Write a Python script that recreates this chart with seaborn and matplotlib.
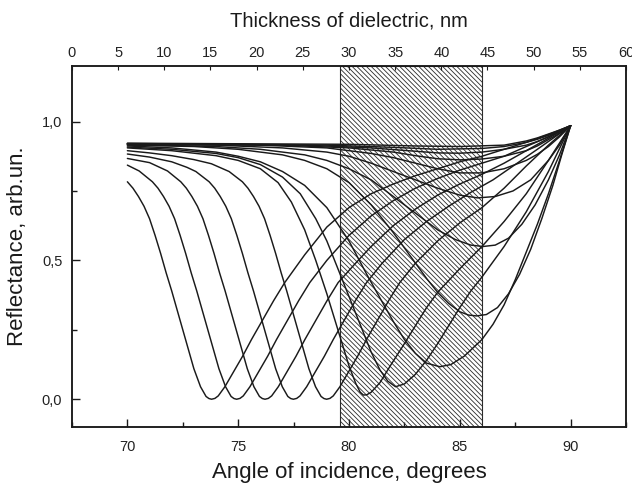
import matplotlib
matplotlib.use("Agg")
import matplotlib.pyplot as plt
from matplotlib.ticker import MultipleLocator, FuncFormatter
import seaborn as sns
import pandas as pd

# ---- data (angle in degrees, reflectance arb.un.) ----
ang_01 = [70.0, 70.25, 70.5, 70.75, 71.0, 71.25, 71.5, 71.75, 72.0, 72.25, 72.5, 72.75, 73.0, 73.3, 73.55, 73.68,
          73.8, 73.95, 74.1, 74.4, 74.8, 75.2, 75.6, 76.1, 76.6, 77.1,
          78.0, 79.0, 80.0, 81.0, 82.0, 83.0, 84.0, 85.0, 86.0, 87.0, 88.0, 89.0, 90.0]
ref_01 = [0.783, 0.76, 0.73, 0.695, 0.65, 0.59, 0.525, 0.455, 0.39, 0.32, 0.25, 0.18, 0.11, 0.045, 0.01, 0.0025,
          0.0, 0.003, 0.012, 0.045, 0.10, 0.155, 0.215, 0.285, 0.355, 0.42,
          0.52, 0.62, 0.69, 0.74, 0.775, 0.805, 0.83, 0.855, 0.875, 0.90, 0.925, 0.953, 0.985]

ang_02 = [70.0, 70.53, 71.13, 71.38, 71.63, 71.88, 72.13, 72.38, 72.63, 72.88, 73.13, 73.38, 73.63, 73.88, 74.13, 74.43, 74.68, 74.81,
          74.93, 75.08, 75.23, 75.53, 75.93, 76.33, 76.73, 77.23, 77.73, 78.23,
          79.0, 80.0, 81.0, 82.0, 83.0, 84.0, 85.0, 86.0, 87.0, 88.0, 89.0, 90.0]
ref_02 = [0.843, 0.822, 0.783, 0.76, 0.73, 0.695, 0.65, 0.59, 0.525, 0.455, 0.39, 0.32, 0.25, 0.18, 0.11, 0.045, 0.01, 0.0025,
          0.0, 0.003, 0.012, 0.045, 0.10, 0.155, 0.215, 0.285, 0.355, 0.42,
          0.50, 0.59, 0.66, 0.715, 0.76, 0.795, 0.825, 0.85, 0.875, 0.91, 0.945, 0.985]

ang_03 = [70.0, 71.0, 71.81, 72.41, 72.66, 72.91, 73.16, 73.41, 73.66, 73.91, 74.16, 74.41, 74.66, 74.91, 75.16, 75.41, 75.71, 75.96, 76.09,
          76.21, 76.36, 76.51, 76.81, 77.21, 77.61, 78.01, 78.51, 79.01, 79.51,
          80.3, 81.0, 82.0, 83.0, 84.0, 85.0, 86.0, 87.0, 88.0, 89.0, 90.0]
ref_03 = [0.867, 0.852, 0.822, 0.783, 0.76, 0.73, 0.695, 0.65, 0.59, 0.525, 0.455, 0.39, 0.32, 0.25, 0.18, 0.11, 0.045, 0.01, 0.0025,
          0.0, 0.003, 0.012, 0.045, 0.10, 0.155, 0.215, 0.285, 0.355, 0.42,
          0.49, 0.55, 0.625, 0.685, 0.735, 0.775, 0.81, 0.85, 0.895, 0.94, 0.985]

ang_04 = [70.0, 71.0, 72.0, 72.69, 73.09, 73.69, 73.94, 74.19, 74.44, 74.69, 74.94, 75.19, 75.44, 75.69, 75.94, 76.19, 76.44, 76.69, 76.99, 77.24, 77.37,
          77.49, 77.64, 77.79, 78.09, 78.49, 78.89, 79.29, 79.79, 80.29, 80.79,
          81.5, 82.5, 83.5, 84.5, 85.5, 86.5, 87.5, 88.5, 89.3, 90.0]
ref_04 = [0.883, 0.872, 0.855, 0.835, 0.82, 0.783, 0.76, 0.73, 0.695, 0.65, 0.59, 0.525, 0.455, 0.39, 0.32, 0.25, 0.18, 0.11, 0.045, 0.01, 0.0025,
          0.0, 0.003, 0.012, 0.045, 0.10, 0.155, 0.215, 0.285, 0.355, 0.42,
          0.49, 0.575, 0.64, 0.695, 0.745, 0.79, 0.845, 0.90, 0.945, 0.985]

ang_05 = [70.0, 71.0, 72.0, 73.0, 73.79, 74.59, 75.19, 75.44, 75.69, 75.94, 76.19, 76.44, 76.69, 76.94, 77.19, 77.44, 77.69, 77.94, 78.19, 78.49, 78.74, 78.87,
          78.99, 79.14, 79.29, 79.59, 79.99, 80.39, 80.79, 81.29, 81.79, 82.29,
          83.0, 84.0, 85.0, 86.0, 87.0, 88.0, 89.0, 90.0]
ref_05 = [0.895, 0.887, 0.877, 0.863, 0.848, 0.82, 0.783, 0.76, 0.73, 0.695, 0.65, 0.59, 0.525, 0.455, 0.39, 0.32, 0.25, 0.18, 0.11, 0.045, 0.01, 0.0025,
          0.0, 0.003, 0.012, 0.045, 0.10, 0.155, 0.215, 0.285, 0.355, 0.42,
          0.49, 0.57, 0.635, 0.69, 0.76, 0.84, 0.915, 0.985]

ang_06 = [70.0, 72.0, 74.0, 75.0, 76.0, 76.8, 77.4, 78.0, 78.5, 79.0, 79.5, 80.0, 80.3, 80.5, 80.65, 80.8, 81.0, 81.4, 81.9, 82.5, 83.0, 83.5, 84.0, 85.0, 86.0, 87.0, 88.0, 89.0, 90.0]
ref_06 = [0.905, 0.895, 0.877, 0.86, 0.83, 0.78, 0.71, 0.61, 0.50, 0.38, 0.25, 0.12, 0.058, 0.026, 0.015, 0.016, 0.025, 0.06, 0.125, 0.20, 0.265, 0.33, 0.385, 0.47, 0.55, 0.64, 0.74, 0.86, 0.985]

ang_07 = [70.0, 72.0, 74.0, 75.0, 76.0, 77.0, 77.8, 78.5, 79.0, 79.5, 80.0, 80.5, 81.0, 81.4, 81.75, 82.1, 82.5, 83.0, 83.5, 84.0, 84.5, 85.0, 85.5, 86.0, 87.0, 88.0, 89.0, 90.0]
ref_07 = [0.908, 0.90, 0.885, 0.87, 0.845, 0.80, 0.74, 0.65, 0.57, 0.47, 0.37, 0.27, 0.17, 0.105, 0.065, 0.045, 0.055, 0.09, 0.14, 0.20, 0.265, 0.33, 0.39, 0.44, 0.55, 0.675, 0.82, 0.985]

ang_08 = [70.0, 72.0, 74.0, 75.0, 76.0, 77.0, 78.0, 79.0, 80.0, 80.8, 81.5, 82.0, 82.5, 83.0, 83.5, 84.1, 84.6, 85.2, 86.0, 86.5, 87.0, 87.5, 88.0, 88.5, 89.0, 89.5, 90.0]
ref_08 = [0.912, 0.905, 0.89, 0.875, 0.855, 0.82, 0.77, 0.69, 0.57, 0.45, 0.35, 0.28, 0.215, 0.165, 0.13, 0.117, 0.125, 0.155, 0.215, 0.27, 0.34, 0.43, 0.53, 0.63, 0.74, 0.86, 0.985]

ang_09 = [70.0, 73.0, 75.0, 77.0, 78.0, 79.0, 80.0, 81.0, 82.0, 82.5, 83.0, 83.5, 84.0, 84.5, 85.0, 85.4, 85.76, 86.2, 86.7, 87.2, 87.7, 88.2, 88.7, 89.2, 89.6, 90.0]
ref_09 = [0.915, 0.91, 0.90, 0.88, 0.86, 0.83, 0.78, 0.70, 0.60, 0.545, 0.49, 0.435, 0.385, 0.345, 0.315, 0.303, 0.30, 0.305, 0.33, 0.38, 0.45, 0.54, 0.65, 0.77, 0.88, 0.985]

ang_10 = [70.0, 74.0, 76.0, 78.0, 79.0, 80.0, 81.0, 82.0, 83.0, 84.0, 84.8, 85.5, 86.05, 86.6, 87.2, 87.8, 88.4, 89.0, 89.5, 90.0]
ref_10 = [0.917, 0.91, 0.90, 0.88, 0.86, 0.83, 0.79, 0.73, 0.67, 0.61, 0.575, 0.555, 0.55, 0.555, 0.58, 0.63, 0.70, 0.79, 0.88, 0.985]

ang_11 = [70.0, 74.0, 77.0, 79.0, 80.0, 81.0, 82.0, 83.0, 84.0, 85.0, 85.8, 86.6, 87.4, 88.2, 89.0, 89.5, 90.0]
ref_11 = [0.918, 0.915, 0.905, 0.89, 0.875, 0.85, 0.82, 0.79, 0.76, 0.735, 0.725, 0.73, 0.75, 0.79, 0.86, 0.915, 0.985]

ang_12 = [70.0, 76.0, 79.0, 81.0, 82.0, 83.0, 84.0, 85.0, 86.0, 87.0, 88.0, 88.5, 89.0, 89.5, 90.0]
ref_12 = [0.919, 0.915, 0.905, 0.885, 0.87, 0.85, 0.83, 0.815, 0.815, 0.83, 0.86, 0.882, 0.91, 0.945, 0.985]

ang_13 = [70.0, 77.0, 80.0, 82.0, 83.0, 84.0, 85.0, 86.0, 87.0, 88.0, 88.5, 89.0, 89.5, 90.0]
ref_13 = [0.92, 0.915, 0.905, 0.89, 0.877, 0.866, 0.862, 0.865, 0.875, 0.895, 0.912, 0.935, 0.958, 0.985]

ang_14 = [70.0, 78.0, 81.0, 83.0, 84.0, 85.0, 86.0, 87.0, 88.0, 88.5, 89.0, 89.5, 90.0]
ref_14 = [0.92, 0.915, 0.905, 0.893, 0.887, 0.886, 0.89, 0.90, 0.915, 0.928, 0.945, 0.963, 0.985]

ang_15 = [70.0, 79.0, 82.0, 84.0, 86.0, 87.0, 88.0, 88.5, 89.0, 89.5, 90.0]
ref_15 = [0.921, 0.915, 0.907, 0.90, 0.903, 0.91, 0.925, 0.936, 0.95, 0.966, 0.985]

ang_16 = [70.0, 80.0, 83.0, 85.0, 87.0, 88.0, 88.5, 89.0, 89.5, 90.0]
ref_16 = [0.922, 0.918, 0.912, 0.91, 0.915, 0.93, 0.941, 0.955, 0.969, 0.985]

hatch_band = (79.6, 86.0)          # shaded angular range, degrees
x_ticks = [70, 75, 80, 85, 90]
y_ticks = [0.0, 0.5, 1.0]
top_ticks = list(range(0, 61, 5))  # thickness of dielectric, nm

angles = [ang_01, ang_02, ang_03, ang_04, ang_05, ang_06, ang_07, ang_08,
          ang_09, ang_10, ang_11, ang_12, ang_13, ang_14, ang_15, ang_16]
refls = [ref_01, ref_02, ref_03, ref_04, ref_05, ref_06, ref_07, ref_08,
         ref_09, ref_10, ref_11, ref_12, ref_13, ref_14, ref_15, ref_16]

rows = []
for i, (xs, ys) in enumerate(zip(angles, refls)):
    assert len(xs) == len(ys), (i, len(xs), len(ys))
    for x, y in zip(xs, ys):
        rows.append({"curve": i, "angle": x, "R": y})
df = pd.DataFrame(rows)

# ---- style ----
sns.set_theme(style="ticks")
plt.rcParams["font.family"] = ["Liberation Sans", "DejaVu Sans"]
plt.rcParams["hatch.linewidth"] = 0.6
plt.rcParams["hatch.color"] = "#3a3a3a"

fig = plt.figure(figsize=(6.32, 4.87), dpi=100)
ax = fig.add_axes([0.1139, 0.1232, 0.8766, 0.7413])

ax.axvspan(hatch_band[0], hatch_band[1], facecolor="none", edgecolor="#2a2a2a",
           hatch="\\" * 7, linewidth=0.8, zorder=1)

sns.lineplot(data=df, x="angle", y="R", units="curve", estimator=None, sort=False,
             color="#1a1a1a", linewidth=1.05, legend=False, ax=ax, zorder=3)

ax.set_xlim(67.5, 92.5)
ax.set_ylim(-0.1, 1.2)
ax.set_xticks(x_ticks)
ax.xaxis.set_minor_locator(MultipleLocator(2.5))
ax.set_yticks(y_ticks)
ax.yaxis.set_minor_locator(MultipleLocator(0.25))
ax.yaxis.set_major_formatter(FuncFormatter(lambda v, _: f"{v:.1f}".replace(".", ",")))

for sp in ax.spines.values():
    sp.set_linewidth(1.1)
    sp.set_color("#1a1a1a")

ax.tick_params(which="both", direction="in", colors="#1a1a1a", labelcolor="#222222",
               labelsize=10.5, width=1.0, top=False, right=False)
ax.tick_params(which="major", length=6)
ax.tick_params(which="minor", length=3.5)
ax.tick_params(axis="x", pad=9)
ax.tick_params(axis="y", pad=7)

ax.set_xlabel("Angle of incidence, degrees", fontsize=16, color="#1a1a1a", labelpad=6)
ax.set_ylabel("Reflectance, arb.un.", fontsize=16, color="#1a1a1a", labelpad=10)

ax2 = ax.twiny()
ax2.set_xlim(0, 60)
ax2.set_xticks(top_ticks)
ax2.tick_params(which="both", direction="in", colors="#1a1a1a", labelcolor="#222222",
                labelsize=10.5, length=3, width=0.8, pad=4)
ax2.set_xlabel("Thickness of dielectric, nm", fontsize=14.5, color="#1a1a1a", labelpad=14)
for sp in ax2.spines.values():
    sp.set_linewidth(1.1)
    sp.set_color("#1a1a1a")

fig.savefig("out.png", dpi=100)
